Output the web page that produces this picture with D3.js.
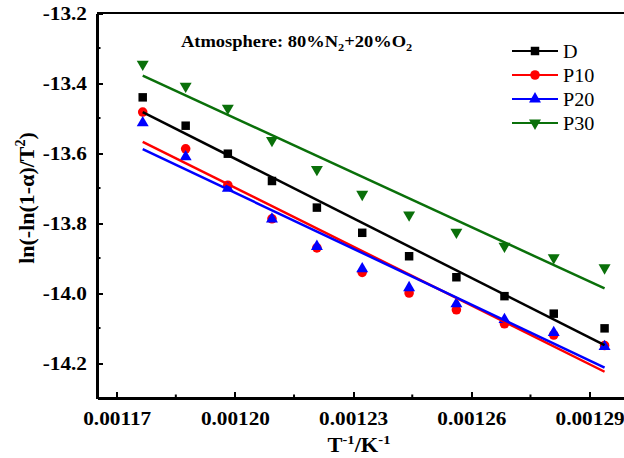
<!DOCTYPE html>
<html lang="en">
<head>
    <meta charset="UTF-8">
    <title>chart</title>
    <style>
        body{ margin:0; background:#fff; }
        svg text{ font-family:"Liberation Serif","Times New Roman",serif; }
        .axis path,.axis line{ stroke:#000; shape-rendering:crispEdges; }
        .axis text{ font-size:19px; font-weight:bold; fill:#000; }
    </style>
    <script src="https://cdn.jsdelivr.net/npm/d3@7"></script>
</head>
<body>
<script>
    // data
    var invT = [0.0011766,0.0011875,0.0011982,0.0012094,0.0012208,0.0012323,0.0012442,0.0012562,0.0012684,0.0012809,0.0012938];
    var seriesD   = [-13.441,-13.522,-13.602,-13.680,-13.756,-13.828,-13.895,-13.955,-14.009,-14.059,-14.101];
    var seriesP10 = [-13.483,-13.588,-13.692,-13.788,-13.871,-13.941,-14.000,-14.048,-14.088,-14.120,-14.150];
    var seriesP20 = [-13.514,-13.611,-13.701,-13.789,-13.867,-13.931,-13.985,-14.031,-14.076,-14.113,-14.153];
    var seriesP30 = [-13.346,-13.409,-13.472,-13.564,-13.647,-13.718,-13.777,-13.826,-13.866,-13.899,-13.928];
    // fitted line values at the first and last point
    var fitD   = [-13.483,-14.149];
    var fitP10 = [-13.568,-14.225];
    var fitP20 = [-13.589,-14.213];
    var fitP30 = [-13.379,-13.987];
    var names = ["D","P10","P20","P30"];
    var xTicks = [0.00117,0.00120,0.00123,0.00126,0.00129];
    var yTicks = [-13.2,-13.4,-13.6,-13.8,-14.0,-14.2];

    var width = 624, height = 458;
    var colors = {"D":"#000000","P10":"#ff0000","P20":"#0000ff","P30":"#0a700a"};
    var symbols = {"D":d3.symbolSquare,"P10":d3.symbolCircle,"P20":d3.symbolTriangle,"P30":d3.symbolTriangle};
    var sizes = {"D":72,"P10":72,"P20":62,"P30":62};
    var rot = {"D":0,"P10":0,"P20":0,"P30":180};
    var values = {"D":seriesD,"P10":seriesP10,"P20":seriesP20,"P30":seriesP30};
    var fits = {"D":fitD,"P10":fitP10,"P20":fitP20,"P30":fitP30};
    var sx = 1.12; // text looks stretched sideways in the original

    var svg = d3.select("body").append("svg")
            .attr("width",width)
            .attr("height",height);

    var x = d3.scaleLinear().domain([0.001165,0.0013]).range([97,629]);
    var y = d3.scaleLinear().domain([-14.3,-13.2]).range([398,13]);

    // minor ticks
    var xMinor = [0.001185,0.001215,0.001245,0.001275];
    var yMinor = [-13.3,-13.5,-13.7,-13.9,-14.1];
    svg.selectAll(".xminor").data(xMinor).enter().append("line")
            .attr("x1",function(d){return x(d);}).attr("x2",function(d){return x(d);})
            .attr("y1",y(-14.3)).attr("y2",y(-14.3)-3.5)
            .attr("stroke","#000").attr("stroke-width",2);
    svg.selectAll(".yminor").data(yMinor).enter().append("line")
            .attr("x1",x(0.001165)).attr("x2",x(0.001165)+3.5)
            .attr("y1",function(d){return y(d);}).attr("y2",function(d){return y(d);})
            .attr("stroke","#000").attr("stroke-width",2);

    // axes
    var xAxis = d3.axisBottom(x).tickValues(xTicks).tickSizeInner(-6).tickSizeOuter(0)
            .tickPadding(14).tickFormat(function(d){return d.toFixed(5);});
    svg.append("g").attr("class","axis")
            .attr("transform","translate(0," + y(-14.3) + ")")
            .call(xAxis);
    var yAxis = d3.axisLeft(y).tickValues(yTicks).tickSizeInner(-6).tickSizeOuter(0)
            .tickPadding(9).tickFormat(function(d){return d.toFixed(1);});
    svg.append("g").attr("class","axis")
            .attr("transform","translate(" + x(0.001165) + ",0)")
            .call(yAxis);
    svg.selectAll(".axis path").attr("stroke-width",2.2);
    svg.selectAll(".axis .tick line").attr("stroke-width",2);
    svg.selectAll(".axis text").attr("transform","scale(" + sx + ",1)");
    svg.selectAll(".axis text").filter(function(d){return d < 0;})
            .attr("x",-10 / sx);

    // top frame
    svg.append("line")
            .attr("x1",x(0.001165)).attr("x2",x(0.0013))
            .attr("y1",y(-13.2)).attr("y2",y(-13.2))
            .attr("stroke","#000").attr("stroke-width",2.2);

    // markers
    names.forEach(function(n){
        svg.selectAll(".m" + n).data(values[n]).enter().append("path")
                .attr("class","m" + n)
                .attr("d",d3.symbol().type(symbols[n]).size(sizes[n]))
                .attr("transform",function(d,i){
                    return "translate(" + x(invT[i]) + "," + y(d) + ") rotate(" + rot[n] + ")";
                })
                .attr("fill",colors[n]);
    });

    // fit lines
    var line = d3.line()
            .x(function(d,i){return x(i === 0 ? invT[0] : invT[invT.length-1]);})
            .y(function(d){return y(d);});
    names.forEach(function(n){
        svg.append("path")
                .attr("d",line(fits[n]))
                .attr("fill","none")
                .attr("stroke",colors[n])
                .attr("stroke-width",2.5);
    });

    // legend
    var legend = svg.selectAll(".legend").data(names).enter().append("g")
            .attr("transform",function(d,i){return "translate(512," + (51 + i*24) + ")";});
    legend.append("line")
            .attr("x1",0).attr("x2",46).attr("y1",0).attr("y2",0)
            .attr("stroke",function(d){return colors[d];})
            .attr("stroke-width",2);
    legend.append("path")
            .attr("d",function(d){return d3.symbol().type(symbols[d]).size(sizes[d])();})
            .attr("transform",function(d){return "translate(23,0) rotate(" + rot[d] + ")";})
            .attr("fill",function(d){return colors[d];});
    legend.append("text")
            .attr("transform","translate(51,6.5) scale(" + sx + ",1)")
            .attr("font-size",18)
            .text(function(d){return d;});

    // title
    var title = svg.append("text")
            .attr("transform","translate(181,47) scale(" + sx + ",1)")
            .attr("font-size",16.5)
            .attr("font-weight","bold");
    title.append("tspan").text("Atmosphere: 80%N");
    title.append("tspan").attr("font-size",11).attr("dy",4).text("2");
    title.append("tspan").attr("dy",-4).text("+20%O");
    title.append("tspan").attr("font-size",11).attr("dy",4).text("2");

    // x label
    var xl = svg.append("text")
            .attr("transform","translate(359,452) scale(" + sx + ",1)")
            .attr("text-anchor","middle")
            .attr("font-size",20)
            .attr("font-weight","bold");
    xl.append("tspan").text("T");
    xl.append("tspan").attr("font-size",13).attr("dy",-8).text("-1");
    xl.append("tspan").attr("dy",8).text("/K");
    xl.append("tspan").attr("font-size",13).attr("dy",-8).text("-1");

    // y label
    var yl = svg.append("text")
            .attr("transform","translate(34,198) rotate(-90)")
            .attr("text-anchor","middle")
            .attr("font-size",22)
            .attr("font-weight","bold");
    yl.append("tspan").text("ln(-ln(1-\u03b1)/T");
    yl.append("tspan").attr("font-size",14).attr("dy",-9).text("2");
    yl.append("tspan").attr("dy",9).text(")");
</script>
</body>
</html>
